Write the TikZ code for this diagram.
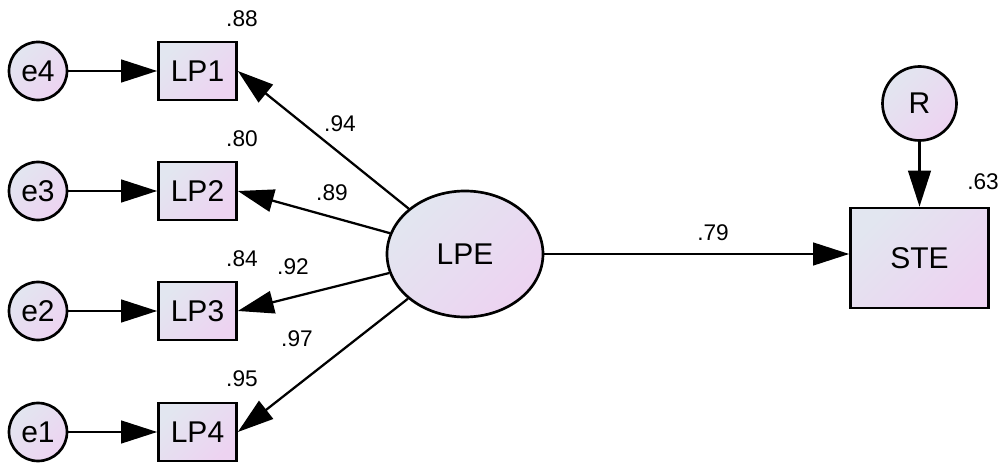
\documentclass[tikz,border=0pt]{standalone}
\usepackage{fontspec}
\setmainfont{Liberation Sans}
\usetikzlibrary{arrows.meta,shapes.geometric}
\definecolor{fillA}{HTML}{E2E6F0}
\definecolor{fillB}{HTML}{EDD3F1}
\begin{document}
\begin{tikzpicture}[x=0.75pt,y=-0.75pt,
  shadefill/.style={draw=black,line width=2pt,top color=fillA,bottom color=fillB,shading angle=45,
    font=\fontsize{22.5}{27}\selectfont,inner sep=0pt},
  obsbox/.style={shadefill,rectangle,minimum width=58.5pt,minimum height=43.5pt},
  errc/.style={shadefill,circle,minimum size=43.5pt},
  lbl/.style={font=\fontsize{17}{20}\selectfont,inner sep=0pt},
  conn/.style={line width=1.7pt,-{Triangle[length=27pt,width=17pt]}}
]
\useasboundingbox (0,0) rectangle (1003,463);
% error terms
\node[errc] (e4) at (38,71) {e4};
\node[errc] (e3) at (38,191) {e3};
\node[errc] (e2) at (38,311) {e2};
\node[errc] (e1) at (38,432) {e1};
% observed
\node[obsbox] (LP1) at (197.5,71) {LP1};
\node[obsbox] (LP2) at (197.5,191) {LP2};
\node[obsbox] (LP3) at (197.5,311) {LP3};
\node[obsbox] (LP4) at (197.5,432) {LP4};
% latent
\node[shadefill,ellipse,minimum width=117pt,minimum height=94.5pt] (LPE) at (465,254) {LPE};
% outcome
\node[shadefill,rectangle,minimum width=103.5pt,minimum height=75pt] (STE) at (919.5,258) {STE};
\node[shadefill,circle,minimum size=55.5pt] (R) at (919.5,103.5) {R};
% connectors
\draw[conn] (e4) -- (LP1);
\draw[conn] (e3) -- (LP2);
\draw[conn] (e2) -- (LP3);
\draw[conn] (e1) -- (LP4);
\draw[conn] (LPE) -- (LP1.east);
\draw[conn] (LPE) -- (LP2.east);
\draw[conn] (LPE) -- (LP3.east);
\draw[conn] (LPE) -- (LP4.east);
\draw[conn] (LPE.east) -- (LPE.east -| STE.west);
\draw[conn] (R) -- (STE);
% labels
\node[lbl] (r1) at (242,19) {.88};
\node[lbl] (r2) at (242,139) {.80};
\node[lbl] (r3) at (242,259) {.84};
\node[lbl] (r4) at (242,379) {.95};
\node[lbl] (r5) at (983,182) {.63};
\node[lbl] (w1) at (340,124) {.94};
\node[lbl] (w2) at (332,193) {.89};
\node[lbl] (w3) at (293,267) {.92};
\node[lbl] (w4) at (297,339) {.97};
\node[lbl] (w5) at (713,233) {.79};
\end{tikzpicture}
\end{document}
